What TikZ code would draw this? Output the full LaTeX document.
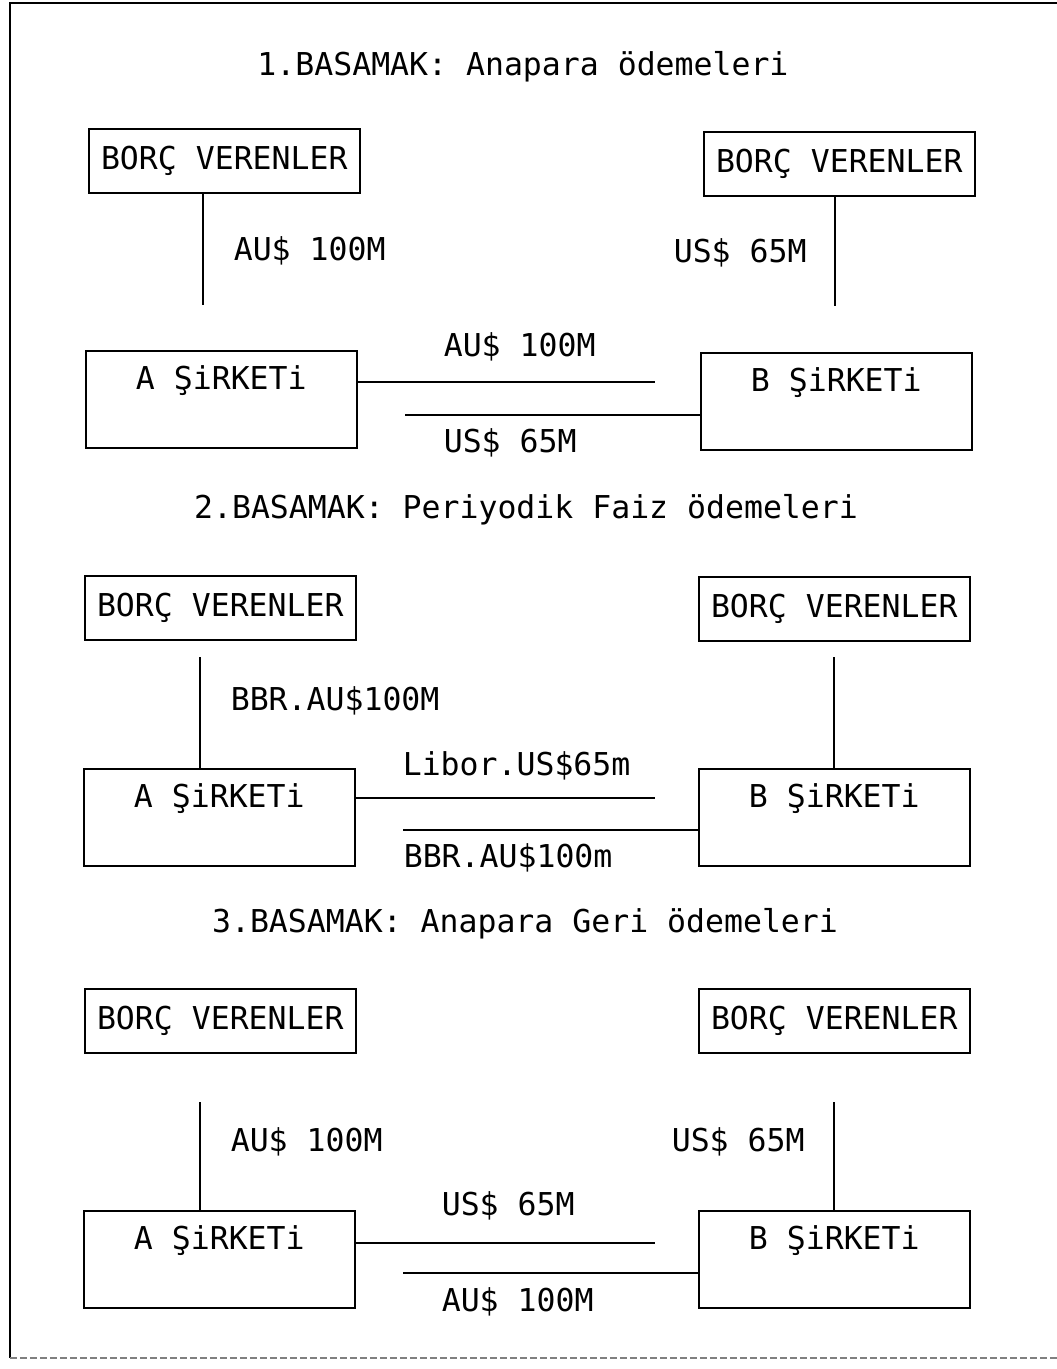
\documentclass[tikz,border=0pt]{standalone}
\usepackage{fontspec}
\setmainfont{DejaVu Sans Mono}
\usetikzlibrary{calc}

\begin{document}
\begin{tikzpicture}[x=1pt, y=-1pt, line width=1.6pt,
    font=\fontsize{31.5}{36}\selectfont,
    lender/.style={draw, anchor=north west, minimum width=271pt, minimum height=64pt, inner sep=0pt},
    firm/.style={draw, anchor=north west, minimum width=271pt, text height=21pt, text depth=40pt, inner xsep=0pt, inner ysep=18pt},
    lbl/.style={anchor=west, inner sep=0pt, text height=21pt, text depth=0pt},
    title/.style={inner sep=0pt, text height=21pt, text depth=0pt}]
  \useasboundingbox (0,0) rectangle (1057,1369);
  % cerceve (sag kenar sayfa disinda)
  \draw[line width=1.8pt] (1057,3) -- (10,3) -- (10,1358);
  \draw[gray, dash pattern=on 7pt off 3pt] (10,1358) -- (1057,1358);

  % 1. basamak
  \node[title] (t1) at (523,65) {1.BASAMAK: Anapara ödemeleri};
  \node[lender] (bvA1) at (88,128) {BORÇ VERENLER};
  \node[lender] (bvB1) at (703,131) {BORÇ VERENLER};
  \node[firm] (sA1) at (85,350) {A ŞiRKETi};
  \node[firm] (sB1) at (700,352) {B ŞiRKETi};
  \coordinate (vA1) at (203,305);
  \coordinate (vB1) at (835,306);
  \draw (vA1 |- bvA1.south) -- (vA1);
  \draw (vB1 |- bvB1.south) -- (vB1);
  \coordinate (h1) at (655,382);
  \coordinate (g1) at (405,415);
  \draw (h1 -| sA1.east) -- (h1);
  \draw (g1) -- (g1 -| sB1.west);
  \node[lbl] (la1) at (233,250) {AU\$ 100M};
  \node[lbl] (lb1) at (673,252) {US\$ 65M};
  \node[lbl] (lh1) at (443,346) {AU\$ 100M};
  \node[lbl] (lg1) at (443,442) {US\$ 65M};

  % 2. basamak
  \node[title] (t2) at (526,508) {2.BASAMAK: Periyodik Faiz ödemeleri};
  \node[lender] (bvA2) at (84,575) {BORÇ VERENLER};
  \node[lender] (bvB2) at (698,576) {BORÇ VERENLER};
  \node[firm] (sA2) at (83,768) {A ŞiRKETi};
  \node[firm] (sB2) at (698,768) {B ŞiRKETi};
  \coordinate (vA2) at (200,657);
  \coordinate (vB2) at (834,657);
  \draw (vA2) -- (vA2 |- sA2.north);
  \draw (vB2) -- (vB2 |- sB2.north);
  \coordinate (h2) at (655,798);
  \coordinate (g2) at (403,830);
  \draw (h2 -| sA2.east) -- (h2);
  \draw (g2) -- (g2 -| sB2.west);
  \node[lbl] (la2) at (230,700) {BBR.AU\$100M};
  \node[lbl] (lh2) at (402,765) {Libor.US\$65m};
  \node[lbl] (lg2) at (403,857) {BBR.AU\$100m};

  % 3. basamak
  \node[title] (t3) at (525,922) {3.BASAMAK: Anapara Geri ödemeleri};
  \node[lender] (bvA3) at (84,988) {BORÇ VERENLER};
  \node[lender] (bvB3) at (698,988) {BORÇ VERENLER};
  \node[firm] (sA3) at (83,1210) {A ŞiRKETi};
  \node[firm] (sB3) at (698,1210) {B ŞiRKETi};
  \coordinate (vA3) at (200,1102);
  \coordinate (vB3) at (834,1102);
  \draw (vA3) -- (vA3 |- sA3.north);
  \draw (vB3) -- (vB3 |- sB3.north);
  \coordinate (h3) at (655,1243);
  \coordinate (g3) at (403,1273);
  \draw (h3 -| sA3.east) -- (h3);
  \draw (g3) -- (g3 -| sB3.west);
  \node[lbl] (la3) at (230,1141) {AU\$ 100M};
  \node[lbl] (lb3) at (671,1141) {US\$ 65M};
  \node[lbl] (lh3) at (441,1205) {US\$ 65M};
  \node[lbl] (lg3) at (441,1301) {AU\$ 100M};
\end{tikzpicture}
\end{document}
